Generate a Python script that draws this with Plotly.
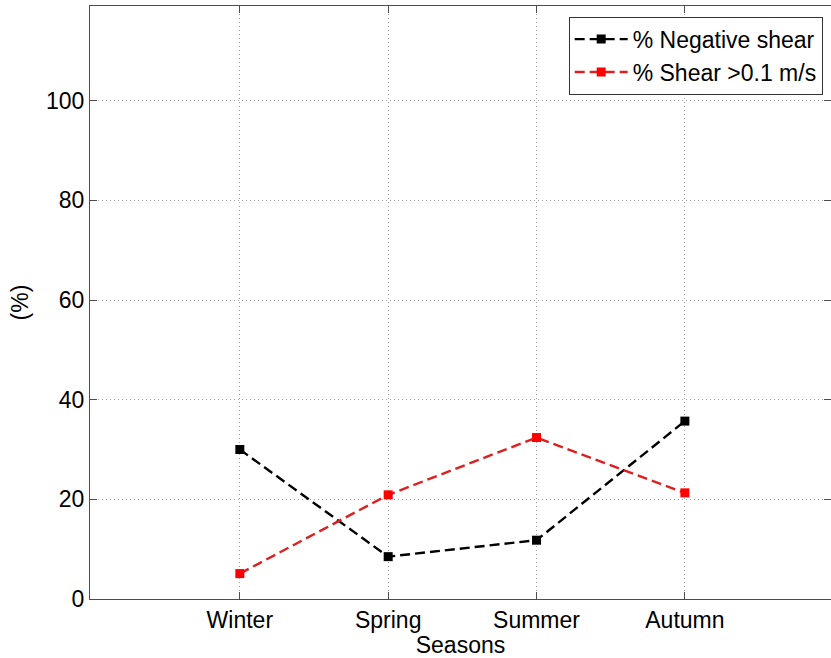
import plotly.graph_objects as go

# Seasonal shear statistics
seasons = ["Winter", "Spring", "Summer", "Autumn"]
negative_shear_pct = [30.0, 8.5, 11.8, 35.7]
shear_above_01_pct = [5.1, 20.9, 32.4, 21.3]
y_ticks = [0, 20, 40, 60, 80, 100]

FONT = "Liberation Sans, Arial, sans-serif"
AXIS_COLOR = "#4d4d4d"

fig = go.Figure()

fig.add_trace(go.Scatter(
    x=seasons, y=negative_shear_pct,
    mode="lines+markers",
    name="% Negative shear",
    line=dict(color="black", width=2.4, dash="10px,5px"),
    marker=dict(symbol="square", size=9, color="black"),
))

fig.add_trace(go.Scatter(
    x=seasons, y=shear_above_01_pct,
    mode="lines+markers",
    name="% Shear >0.1 m/s",
    line=dict(color="#dd1f1f", width=2.4, dash="10px,5px"),
    marker=dict(symbol="square", size=9, color="#ff0000"),
))

axis_common = dict(
    showline=True, linecolor=AXIS_COLOR, linewidth=1.2,
    mirror="ticks", ticks="inside", ticklen=7, tickcolor=AXIS_COLOR,
    showgrid=True, gridcolor="#a0a0a0", griddash="1px,3px", gridwidth=1,
    zeroline=False,
    tickfont=dict(family=FONT, size=23, color="black"),
    title_font=dict(family=FONT, size=23, color="black"),
)

fig.update_layout(
    width=831, height=658,
    margin=dict(l=90, r=0, t=6, b=59),
    paper_bgcolor="white", plot_bgcolor="white",
    font=dict(family=FONT, size=23, color="black"),
    xaxis=dict(
        type="category", categoryorder="array", categoryarray=seasons,
        range=[-1.01, 3.985], title=dict(text="Seasons", standoff=2),
        **axis_common,
    ),
    yaxis=dict(
        range=[0, 119], tickvals=y_ticks,
        title=dict(text="(%)", standoff=10),
        **axis_common,
    ),
    legend=dict(
        x=0.646, y=0.982, xanchor="left", yanchor="top",
        bgcolor="white", bordercolor="#333333", borderwidth=1,
        font=dict(family=FONT, size=23, color="black"),
        tracegroupgap=0, itemwidth=53,
    ),
    showlegend=True,
)

fig.write_html("out.html")
